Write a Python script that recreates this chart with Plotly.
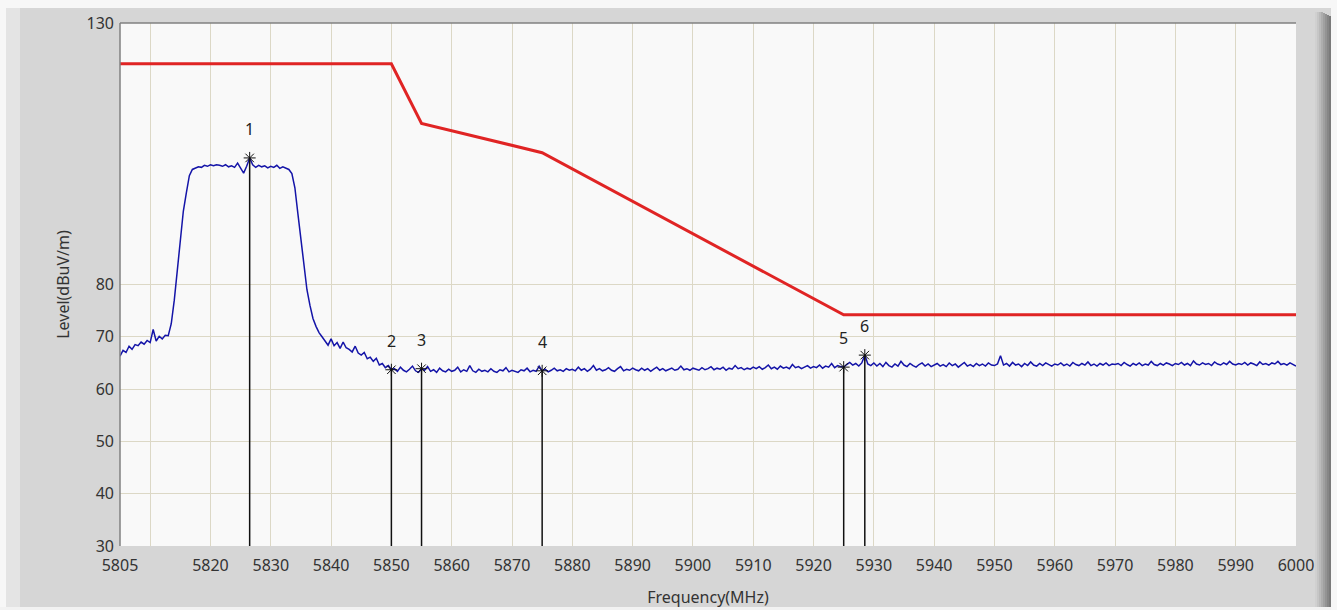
import plotly.graph_objects as go

# ---------------- data ----------------
sweep_start = 5805.0
sweep_step = 0.5

level = [
    # 5805 - 5813
    66.3, 67.4, 67.0, 68.2, 67.6, 68.5, 68.3, 69.0, 68.6, 69.3, 68.9, 71.4, 69.2, 70.1, 69.6, 70.3, 70.2,
    # 5813.5 - 5817 rise
    72.5, 77.0, 82.5, 88.5, 94.0, 97.5, 100.8, 102.0,
    # 5817.5 - 5833.5 plateau
    102.3, 102.5, 102.4, 102.8, 102.6, 102.9, 102.7, 102.9, 102.8, 102.6, 102.9, 102.5, 102.7, 102.4,
    103.2, 102.2, 101.3, 102.6, 104.2, 102.9, 102.4, 102.8, 102.5, 102.7, 102.3, 102.6, 102.4, 102.8,
    102.2, 102.5, 102.3, 102.0, 101.2,
    # 5834 - 5838.5 fall
    98.5, 93.5, 88.5, 83.5, 79.0, 76.0, 73.5, 72.0, 70.8, 70.0,
    # 5839 - 5850
    69.2, 68.4, 69.6, 68.3, 68.9, 67.8, 69.0, 67.9, 67.6, 67.1, 68.2, 66.9, 66.5, 67.0, 65.8, 66.1,
    65.3, 65.9, 64.6, 64.9, 64.1, 64.5, 63.7,
    # 5850.5 - 5860
    63.9, 63.4, 64.2, 63.6, 63.3, 63.8, 64.4, 63.5, 63.2, 63.9, 63.6, 64.3, 63.4, 63.7, 63.2, 64.0, 63.5, 63.3, 63.8, 63.4,
    # 5860.5 - 5870
    63.6, 64.2, 63.3, 63.7, 63.4, 64.5, 63.5, 63.2, 63.8, 63.4, 63.6, 63.3, 63.9, 63.4, 63.2, 63.7, 63.5, 64.1, 63.3, 63.6,
    # 5870.5 - 5880
    63.4, 63.2, 63.7, 63.5, 64.0, 63.3, 63.6, 63.4, 64.4, 63.5, 63.8, 63.3, 63.6, 64.0, 63.5, 63.7, 63.4, 63.9, 63.6, 63.8,
    # 5880.5 - 5890
    63.5, 64.2, 63.6, 63.9, 63.4, 63.8, 64.5, 63.6, 63.9, 63.5, 63.7, 64.1, 63.6, 63.4, 63.9, 64.3, 63.5, 63.8, 63.6, 64.0,
    # 5890.5 - 5900
    63.7, 63.5, 64.0, 63.6, 63.9, 63.4, 63.8, 64.2, 63.6, 63.9, 63.5, 63.7, 64.0, 63.6, 63.8, 64.4, 63.7, 63.9, 63.6, 64.0,
    # 5900.5 - 5910
    63.8, 63.6, 64.1, 63.7, 63.9, 64.3, 63.7, 64.0, 63.8, 64.2, 63.6, 64.0, 63.8, 64.5, 63.9, 64.1, 63.7, 64.0, 63.8, 64.2,
    # 5910.5 - 5920
    63.9, 64.3, 63.8, 64.1, 64.6, 63.9, 64.2, 63.8, 64.4, 64.0, 64.2, 63.9, 64.7, 64.1, 64.3, 63.9, 64.2, 64.5, 64.0, 64.3,
    # 5920.5 - 5930
    64.1, 64.6, 64.0, 64.4, 64.2, 64.9, 64.1, 64.5, 64.3, 64.2, 64.7, 65.1, 64.6, 64.9, 64.4, 65.0, 66.5, 64.8, 64.5, 65.0,
    # 5930.5 - 5940
    64.4, 64.9, 64.3, 65.1, 64.5, 64.2, 64.8, 64.4, 65.3, 64.6, 64.3, 64.9, 64.5, 64.2, 64.7, 65.0, 64.4, 64.8, 64.3, 64.6,
    # 5940.5 - 5950
    64.9, 64.4, 64.7, 64.3, 65.0, 64.5, 64.8, 64.2, 64.6, 65.1, 64.4, 64.7, 64.3, 64.9, 64.5, 64.8, 64.4, 65.0, 64.6, 64.5,
    # 5950.5 - 5960
    64.8, 66.4, 64.6, 64.9, 64.4, 65.1, 64.6, 64.8, 64.3, 64.9, 64.5, 65.2, 64.6, 64.4, 64.9, 64.5, 65.0, 64.7, 64.4, 64.8,
    # 5960.5 - 5970
    64.6, 65.0, 64.5, 64.8, 64.4, 65.1, 64.7, 64.5, 64.9, 64.6, 65.2, 64.5, 64.8, 64.4, 64.9, 64.6, 65.0, 64.5, 64.8, 64.7,
    # 5970.5 - 5980
    64.9, 64.5, 65.1, 64.7, 64.4, 64.9, 64.6, 65.0, 64.5, 64.8, 64.6, 65.3, 64.7, 64.5, 64.9, 64.6, 65.0, 64.8, 64.5, 64.9,
    # 5980.5 - 5990
    64.7, 65.1, 64.6, 64.9, 64.5, 65.4, 64.8, 64.6, 65.0, 64.7, 64.9, 64.5, 65.2, 64.8, 64.6, 65.0, 64.7, 65.3, 64.8, 64.6,
    # 5990.5 - 6000
    64.9, 64.7, 65.1, 64.6, 65.0, 64.8, 64.5, 65.2, 64.7, 64.9, 64.6, 65.0, 64.8, 65.3, 64.7, 64.9, 64.6, 65.0, 64.7, 64.4,
]
freq = [sweep_start + sweep_step * i for i in range(len(level))]

limit_freq = [5805, 5850, 5855, 5875, 5925, 6000]
limit_level = [122.2, 122.2, 110.8, 105.2, 74.2, 74.2]

marker_freq = [5826.5, 5850, 5855, 5875, 5925, 5928.5]
marker_level = [104.2, 63.7, 63.9, 63.5, 64.2, 66.5]
marker_label = ["1", "2", "3", "4", "5", "6"]

x_tickvals = [5805, 5810, 5820, 5830, 5840, 5850, 5860, 5870, 5880, 5890, 5900,
              5910, 5920, 5930, 5940, 5950, 5960, 5970, 5980, 5990, 6000]
x_ticktext = ["5805", "", "5820", "5830", "5840", "5850", "5860", "5870", "5880", "5890", "5900",
              "5910", "5920", "5930", "5940", "5950", "5960", "5970", "5980", "5990", "6000"]
y_tickvals = [30, 40, 50, 60, 70, 80, 130]

# ---------------- figure ----------------
W, H = 1337, 610
L, R, T, B = 120, 41, 23, 64
pw, ph = W - L - R, H - T - B
FONT = "Noto Sans, DejaVu Sans"

def px_x(p):
    return (p - L) / pw

def px_y(p):
    return 1 - (p - T) / ph

fig = go.Figure()

# marker stems
stem_x, stem_y = [], []
for f, v in zip(marker_freq, marker_level):
    stem_x += [f, f, None]
    stem_y += [30, v, None]

fig.add_trace(go.Scatter(x=freq, y=level, mode="lines",
                         line=dict(color="#1414a8", width=1.5), hoverinfo="skip"))
fig.add_trace(go.Scatter(x=limit_freq, y=limit_level, mode="lines",
                         line=dict(color="#e02424", width=3), hoverinfo="skip"))
fig.add_trace(go.Scatter(x=stem_x, y=stem_y, mode="lines",
                         line=dict(color="#111111", width=1.5), hoverinfo="skip"))
fig.add_trace(go.Scatter(x=marker_freq, y=marker_level, mode="markers",
                         marker=dict(symbol="asterisk-open", size=10, color="#111111",
                                     line=dict(color="#111111", width=1)),
                         hoverinfo="skip"))

for f, v, t in zip(marker_freq, marker_level, marker_label):
    fig.add_annotation(x=f, y=v, text=t, showarrow=False, yshift=29,
                       font=dict(family=FONT, size=16, color="#222222"))

shapes = []
# outer frame decorations (paper coords derived from pixel positions)
def rect(x0, y0, x1, y1, color):
    shapes.append(dict(type="rect", xref="paper", yref="paper",
                       x0=px_x(x0), x1=px_x(x1), y0=px_y(y1), y1=px_y(y0),
                       fillcolor=color, line=dict(width=0), layer="below"))

rect(0, 0, W, 8, "#f7f7f7")
rect(0, 0, 6, H, "#f7f7f7")
rect(6, 8, 20, 607, "#e4e4e4")
rect(0, 607, W, H, "#f2f2f2")
rect(1331, 0, W, H, "#f7f7f7")
grad = ["#d0d0d0", "#c6c6c6", "#bababa", "#adadad", "#a0a0a0", "#939393", "#868686", "#7a7a7a"]
for i, c in enumerate(grad):
    rect(1315 + 2 * i, 12 + (0 if i < 4 else i - 3), 1317 + 2 * i, 607, c)
# plot border (left and top)
shapes.append(dict(type="line", xref="paper", yref="paper", x0=0, x1=0, y0=0, y1=1,
                   line=dict(color="#808080", width=1.5)))
shapes.append(dict(type="line", xref="paper", yref="paper", x0=0, x1=1, y0=1, y1=1,
                   line=dict(color="#808080", width=1.5)))

fig.update_layout(
    width=W, height=H,
    margin=dict(l=L, r=R, t=T, b=B, autoexpand=False),
    paper_bgcolor="#d6d6d6",
    plot_bgcolor="#f9f9f9",
    showlegend=False,
    shapes=shapes,
    font=dict(family=FONT, size=16, color="#333333"),
    xaxis=dict(range=[5805, 6000], tickmode="array", tickvals=x_tickvals, ticktext=x_ticktext,
               showgrid=True, gridcolor="#dcd8c6", gridwidth=1, zeroline=False,
               showline=False, ticks="", tickfont=dict(family=FONT, size=16, color="#333333"),
               ticklabelstandoff=8, automargin=False,
               title=dict(text="Frequency(MHz)", font=dict(family=FONT, size=16, color="#333333"),
                          standoff=16)),
    yaxis=dict(range=[30, 130], tickmode="array", tickvals=y_tickvals,
               showgrid=True, gridcolor="#dcd8c6", gridwidth=1, zeroline=False,
               showline=False, ticks="", tickfont=dict(family=FONT, size=16, color="#333333"),
               ticklabelstandoff=5, automargin=False,
               title=dict(text="Level(dBuV/m)", font=dict(family=FONT, size=16, color="#333333"),
                          standoff=12)),
)

fig.write_html("out.html", config={"displayModeBar": False},
               post_script="document.body.style.margin='0';document.body.style.overflow='hidden';")
